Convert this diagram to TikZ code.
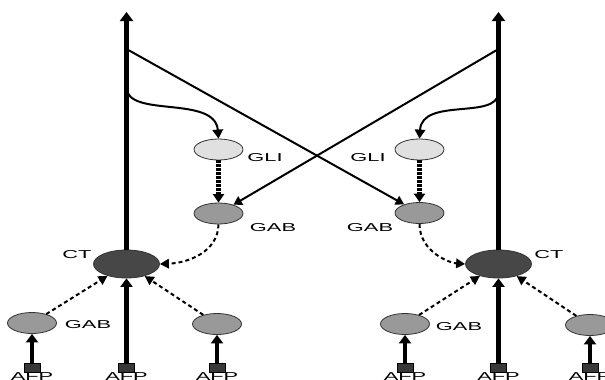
\documentclass[tikz,border=0pt]{standalone}
\usepackage{fontspec}
\setmainfont{Liberation Sans}
\usepackage{graphicx}
\usetikzlibrary{arrows.meta,shapes.geometric}
\newcommand{\wlbl}[1]{\scalebox{1.9}[1]{#1}}
\begin{document}
\begin{tikzpicture}[x=1pt,y=-1pt,
 ell/.style={ellipse,draw=black!80,line width=0.8pt,inner sep=0pt,minimum width=49pt,minimum height=21pt},
 gli/.style={ell,fill=black!12},
 gab/.style={ell,fill=black!40},
 ctn/.style={ell,fill=black!72,minimum width=66pt,minimum height=28pt},
 afpbox/.style={rectangle,draw=black,line width=0.6pt,fill=black!78,minimum width=16pt,minimum height=9pt,inner sep=0pt},
 lbl/.style={inner sep=0pt,font=\fontsize{11.5}{12}\selectfont},
 trunk/.style={line width=4.4pt,-{Triangle[width=13pt,length=9pt]}},
 thickar/.style={line width=4.2pt,-{Triangle[width=12pt,length=8.5pt]}},
 diag/.style={line width=2pt,-{Triangle[width=9.5pt,length=8.5pt]}},
 curvear/.style={line width=2pt,-{Triangle[width=10.5pt,length=9pt]}},
 dotar/.style={line width=4.2pt,dash pattern=on 2.5pt off 1.5pt,-{Triangle[width=11pt,length=8.5pt]}},
 dashar/.style={line width=2pt,dash pattern=on 4pt off 3pt,-{Triangle[width=9.5pt,length=9pt]}},
]
\useasboundingbox (0,0) rectangle (605,380);
\clip (0,0) rectangle (605,380);
\fill[white] (0,0) rectangle (605,380);

% ---------- left unit ----------
\coordinate (topL) at (126.5,12);
\coordinate (brL) at (126.5,49);
\coordinate (cvL) at (126.5,88);
\node[gli] (gliL) at (218.5,149.5) {};
\node[gab] (gabL) at (218.5,213.5) {};
\node[ctn] (ctL) at (126.5,264) {};
\node[gab] (gabL1) at (32,323) {};
\node[gab] (gabL3) at (217,324) {};
\node[afpbox] (afpL1) at (32,367.5) {};
\node[afpbox] (afpL2) at (126.5,367.5) {};
\node[afpbox] (afpL3) at (217,367.5) {};

% ---------- right unit ----------
\coordinate (topR) at (498.5,12);
\coordinate (brR) at (498.5,49);
\coordinate (cvR) at (498.5,93);
\node[gli] (gliR) at (419.5,149.5) {};
\node[gab] (gabR) at (419.5,213) {};
\node[ctn] (ctR) at (498.5,264) {};
\node[gab] (gabR1) at (405,324) {};
\node[gab] (gabR3) at (590,325) {};
\node[afpbox] (afpR1) at (405,367.5) {};
\node[afpbox] (afpR2) at (498.5,367.5) {};
\node[afpbox] (afpR3) at (590,367.5) {};

% ---------- labels ----------
\node[lbl] (tCTL) at (77,255) {\wlbl{CT}};
\node[lbl] (tGLIL) at (265,158) {\wlbl{GLI}};
\node[lbl] (tGABL) at (273,228) {\wlbl{GAB}};
\node[lbl] (tGABL1) at (88,325) {\wlbl{GAB}};
\node[lbl] (tCTR) at (549,255) {\wlbl{CT}};
\node[lbl] (tGLIR) at (368,158) {\wlbl{GLI}};
\node[lbl] (tGABR) at (370,228) {\wlbl{GAB}};
\node[lbl] (tGABR1) at (459,327) {\wlbl{GAB}};
\node[lbl,anchor=north] (tAFPL1) at (afpL1.south) {\wlbl{AFP}};
\node[lbl,anchor=north] (tAFPL2) at (afpL2.south) {\wlbl{AFP}};
\node[lbl,anchor=north] (tAFPL3) at (afpL3.south) {\wlbl{AFP}};
\node[lbl,anchor=north] (tAFPR1) at (afpR1.south) {\wlbl{AFP}};
\node[lbl,anchor=north] (tAFPR2) at (afpR2.south) {\wlbl{AFP}};
\node[lbl,anchor=north] (tAFPR3) at (afpR3.south) {\wlbl{AFP}};

% ---------- connectors ----------
\draw[trunk] (ctL.north) -- (topL);
\draw[trunk] (ctR.north) -- (topR);
\draw[thickar] (afpL2.north) -- (ctL.south);
\draw[thickar] (afpR2.north) -- (ctR.south);
\draw[thickar] (afpL1.north) -- (gabL1.south);
\draw[thickar] (afpL3.north) -- (gabL3.south);
\draw[thickar] (afpR1.north) -- (gabR1.south);
\draw[thickar] (afpR3.north) -- (gabR3.south);

\draw[diag] (brL) -- (gabR);
\draw[diag] (brR) -- (gabL);

\draw[curvear] (cvL) .. controls (128,118) and (215,95) .. (gliL.north);
\draw[curvear] (cvR) .. controls (496.5,120) and (422,97) .. (gliR.north);

\draw[dotar] (gliL.south) -- (gabL.north);
\draw[dotar] (gliR.south) -- (gabR.north);

\draw[dashar] (gabL.south) .. controls (218,252) and (188,263) .. (ctL.east);
\draw[dashar] (gabR.south) .. controls (419.5,252) and (450,263) .. (ctR.west);
\draw[dashar] (gabL1) -- (ctL);
\draw[dashar] (gabL3) -- (ctL);
\draw[dashar] (gabR1) -- (ctR);
\draw[dashar] (gabR3) -- (ctR);
\end{tikzpicture}
\end{document}
